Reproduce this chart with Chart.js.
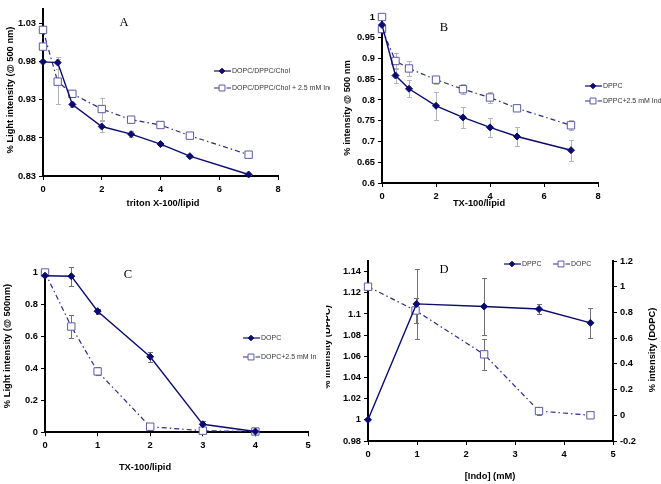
<!DOCTYPE html>
<html>
<head>
<meta charset="utf-8">
<script src="https://cdn.jsdelivr.net/npm/chart.js@4.4.0/dist/chart.umd.min.js"></script>
<style>
  body { margin: 0; background: #fff; }
  #wrap { position: relative; width: 661px; height: 484px; overflow: hidden; background: #fff; }
  canvas { position: absolute; }
</style>
</head>
<body>
<div id="wrap">
  <canvas id="chartA" width="330" height="225" style="left:0;top:0"></canvas>
  <canvas id="chartB" width="331" height="225" style="left:330px;top:0"></canvas>
  <canvas id="chartC" width="316" height="259" style="left:0;top:225px"></canvas>
  <canvas id="chartD" width="335" height="259" style="left:326px;top:225px"></canvas>
</div>
<script>
// panel A
const aX = [0, 0.5, 1, 2, 3, 4, 5, 7];
const aChol = [0.980, 0.979, 0.924, 0.895, 0.885, 0.872, 0.856, 0.832];
const aCholErr = [0, 0.008, 0.003, 0.007, 0.004, 0.002, 0.002, 0.001];
const aIndoX = [0, 0, 0.5, 1, 2, 3, 4, 5, 7];
const aIndo = [1.000, 1.022, 0.954, 0.938, 0.918, 0.904, 0.897, 0.883, 0.858];
const aIndoErr = [0, 0, 0.03, 0.003, 0.014, 0.003, 0.002, 0.002, 0.002];
const aYTicks = [0.83, 0.88, 0.93, 0.98, 1.03];
const aXTicks = [0, 2, 4, 6, 8];

// panel B
const bX = [0, 0.5, 1, 2, 3, 4, 5, 7];
const bDppc = [0.981, 0.859, 0.827, 0.786, 0.758, 0.734, 0.712, 0.679];
const bDppcErr = [0.005, 0.017, 0.02, 0.034, 0.025, 0.023, 0.023, 0.025];
const bIndoX = [0, 0, 0.5, 1, 2, 3, 4, 5, 7];
const bIndo = [1.0, 0.971, 0.894, 0.876, 0.849, 0.826, 0.806, 0.780, 0.739];
const bIndoErr = [0, 0, 0.02, 0.017, 0.01, 0.012, 0.013, 0.005, 0.012];
const bYTicks = [0.6, 0.65, 0.7, 0.75, 0.8, 0.85, 0.9, 0.95, 1];
const bXTicks = [0, 2, 4, 6, 8];

// panel C
const cX = [0, 0.5, 1, 2, 3, 4];
const cDopc = [0.98, 0.977, 0.758, 0.473, 0.05, 0.005];
const cDopcErr = [0, 0.06, 0.015, 0.03, 0.02, 0];
const cIndo = [1.0, 0.662, 0.381, 0.035, 0.01, 0.005];
const cIndoErr = [0, 0.075, 0.025, 0.02, 0.01, 0];
const cYTicks = [0, 0.2, 0.4, 0.6, 0.8, 1];
const cXTicks = [0, 1, 2, 3, 4, 5];

// panel D
const dDppcX = [0, 0.99, 2.37, 3.49, 4.54];
const dDppc = [1.0, 1.1095, 1.107, 1.1046, 1.0916];
const dDppcErr = [0, 0.033, 0.027, 0.005, 0.014];
const dDopcX = [0, 0.97, 2.37, 3.49, 4.54];
const dDopc = [1.0, 0.815, 0.474, 0.033, 0.0];
const dDopcErr = [0, 0.1, 0.118, 0.03, 0];
const dYLeftTicks = [0.98, 1, 1.02, 1.04, 1.06, 1.08, 1.1, 1.12, 1.14];
const dYRightTicks = [-0.2, 0, 0.2, 0.4, 0.6, 0.8, 1, 1.2];
const dXTicks = [0, 1, 2, 3, 4, 5];

const navy = "#0b0b6e";
const squareEdge = "#5a5aa6";
const sans = '"Liberation Sans", Arial, sans-serif';
Chart.defaults.font.family = sans;

function drawMarker(ctx, ds, x, y, scale) {
  const r = ds.pointRadius * scale;
  ctx.beginPath();
  if (ds.pointStyle === "rectRot") {
    ctx.moveTo(x, y - r); ctx.lineTo(x + r, y); ctx.lineTo(x, y + r); ctx.lineTo(x - r, y);
    ctx.closePath();
  } else {
    const h = r * Math.SQRT1_2;
    ctx.rect(x - h, y - h, 2 * h, 2 * h);
  }
  ctx.fillStyle = ds.pointBackgroundColor;
  ctx.fill();
  ctx.lineWidth = ds.pointBorderWidth;
  ctx.strokeStyle = ds.pointBorderColor;
  ctx.stroke();
}

// vertical error bars, drawn under the lines
const errorBars = {
  id: "errorBars",
  beforeDatasetsDraw(chart, args, opts) {
    const ctx = chart.ctx;
    chart.data.datasets.forEach((ds, i) => {
      if (!ds.errors) return;
      const meta = chart.getDatasetMeta(i);
      const xs = chart.scales[meta.xAxisID];
      const ys = chart.scales[meta.yAxisID];
      ctx.save();
      ctx.strokeStyle = opts.color || "#aaa";
      ctx.lineWidth = 1;
      ds.data.forEach((p, j) => {
        const e = ds.errors[j];
        if (!e) return;
        const px = Math.round(xs.getPixelForValue(p.x)) + 0.5;
        const top = Math.round(ys.getPixelForValue(p.y + e)) + 0.5;
        const bot = Math.round(ys.getPixelForValue(p.y - e)) + 0.5;
        ctx.beginPath();
        ctx.moveTo(px, top); ctx.lineTo(px, bot);
        ctx.moveTo(px - 2.5, top); ctx.lineTo(px + 2.5, top);
        ctx.moveTo(px - 2.5, bot); ctx.lineTo(px + 2.5, bot);
        ctx.stroke();
      });
      ctx.restore();
    });
  }
};

// panel letter, axis titles and the small legend
const panelText = {
  id: "panelText",
  afterDraw(chart, args, opts) {
    const ctx = chart.ctx;
    (opts.texts || []).forEach(t => {
      ctx.save();
      ctx.translate(t.x, t.y);
      if (t.rotate) ctx.rotate(t.rotate);
      ctx.font = t.font;
      ctx.fillStyle = "#000";
      ctx.textAlign = "center";
      ctx.textBaseline = "middle";
      ctx.fillText(t.text, 0, 0);
      ctx.restore();
    });
    (opts.legend || []).forEach(item => {
      const ds = chart.data.datasets[item.index];
      ctx.save();
      ctx.strokeStyle = ds.borderColor;
      ctx.lineWidth = 1.2;
      ctx.setLineDash(ds.borderDash || []);
      ctx.beginPath();
      ctx.moveTo(item.x - 8, item.y);
      ctx.lineTo(item.x + 9, item.y);
      ctx.stroke();
      ctx.setLineDash([]);
      drawMarker(ctx, ds, item.x, item.y, 0.8);
      ctx.font = "7px " + sans;
      ctx.fillStyle = "#333";
      ctx.textAlign = "left";
      ctx.textBaseline = "middle";
      ctx.fillText(ds.label, item.x + 10, item.y + 0.5);
      ctx.restore();
    });
  }
};

Chart.register(errorBars, panelText);

function points(xs, ys) {
  return xs.map((x, i) => ({ x: x, y: ys[i] }));
}

function solidSeries(label, xs, ys, errs, axis) {
  return {
    label: label, data: points(xs, ys), errors: errs, yAxisID: axis || "y",
    borderColor: navy, borderWidth: 1.4,
    pointStyle: "rectRot", pointRadius: 3.5, pointHoverRadius: 3.5,
    pointBackgroundColor: navy, pointBorderColor: navy, pointBorderWidth: 1,
    clip: false
  };
}

function dashSeries(label, xs, ys, errs, axis) {
  return {
    label: label, data: points(xs, ys), errors: errs, yAxisID: axis || "y",
    borderColor: "#2a2a86", borderWidth: 1.2, borderDash: [5, 3, 1.5, 3],
    pointStyle: "rect", pointRadius: 5.2, pointHoverRadius: 5.2,
    pointBackgroundColor: "#fff", pointBorderColor: squareEdge, pointBorderWidth: 1,
    clip: false
  };
}

function axis(min, max, tickList, fit, extra) {
  const horizontal = fit.height !== undefined;
  return Object.assign({
    type: "linear", min: min, max: max,
    grid: { drawOnChartArea: false, color: "#000", tickLength: 4, lineWidth: 1 },
    border: { color: "#000", width: 2 },
    ticks: {
      color: "#000", font: { size: 9.3, weight: "bold" }, padding: horizontal ? 4 : 3,
      autoSkip: false, maxRotation: 0, callback: v => String(v)
    },
    afterBuildTicks: s => { s.ticks = tickList.map(v => ({ value: v })); },
    afterFit: s => {
      if (horizontal) s.height = fit.height; else s.width = fit.width;
    }
  }, extra || {});
}

const letterFont = '12.5px "Liberation Serif", "Times New Roman", serif';
const titleFont = "bold 9.3px " + sans;
const up = -Math.PI / 2;

function baseOptions(padTop, padRight, scales, textOpts, errColor) {
  return {
    responsive: false,
    animation: false,
    layout: { padding: { top: padTop, right: padRight, bottom: 0, left: 0 } },
    scales: scales,
    plugins: {
      legend: { display: false },
      tooltip: { enabled: false },
      errorBars: { color: errColor },
      panelText: textOpts
    }
  };
}

new Chart(document.getElementById("chartA"), {
  type: "line",
  data: { datasets: [
    solidSeries("DOPC/DPPC/Chol", aX, aChol, aCholErr),
    dashSeries("DOPC/DPPC/Chol + 2.5 mM Indo", aIndoX, aIndo, aIndoErr)
  ] },
  options: baseOptions(3, 52, {
    x: axis(0, 8, aXTicks, { height: 49 }),
    y: axis(0.83, 1.05, aYTicks, { width: 43 })
  }, {
    texts: [
      { text: "A", x: 124, y: 23, font: letterFont },
      { text: "% Light intensity (@ 500 nm)", x: 10, y: 90, rotate: up, font: titleFont },
      { text: "triton X-100/lipid", x: 163, y: 203, font: titleFont }
    ],
    legend: [ { index: 0, x: 222, y: 71 }, { index: 1, x: 222, y: 88 } ]
  }, "#b4b4b4")
});

new Chart(document.getElementById("chartB"), {
  type: "line",
  data: { datasets: [
    solidSeries("DPPC", bX, bDppc, bDppcErr),
    dashSeries("DPPC+2.5 mM Indo", bIndoX, bIndo, bIndoErr)
  ] },
  options: baseOptions(17, 63, {
    x: axis(0, 8, bXTicks, { height: 42 }),
    y: axis(0.6, 1, bYTicks, { width: 52 })
  }, {
    texts: [
      { text: "B", x: 114, y: 28, font: letterFont },
      { text: "% intensity @ 500 nm", x: 17, y: 108, rotate: up, font: titleFont },
      { text: "TX-100/lipid", x: 149, y: 203, font: titleFont }
    ],
    legend: [ { index: 0, x: 263, y: 86 }, { index: 1, x: 263, y: 101 } ]
  }, "#b4b4b4")
});

new Chart(document.getElementById("chartC"), {
  type: "line",
  data: { datasets: [
    solidSeries("DOPC", cX, cDopc, cDopcErr),
    dashSeries("DOPC+2.5 mM Indo", cX, cIndo, cIndoErr)
  ] },
  options: baseOptions(47.5, 8, {
    x: axis(0, 5, cXTicks, { height: 51.7 }),
    y: axis(0, 1, cYTicks, { width: 45 })
  }, {
    texts: [
      { text: "C", x: 128, y: 50, font: letterFont },
      { text: "% Light intensity (@ 500nm)", x: 7, y: 121, rotate: up, font: titleFont },
      { text: "TX-100/lipid", x: 145, y: 242, font: titleFont }
    ],
    legend: [ { index: 0, x: 251, y: 113 }, { index: 1, x: 251, y: 132 } ]
  }, "#707070")
});

new Chart(document.getElementById("chartD"), {
  type: "line",
  data: { datasets: [
    solidSeries("DPPC", dDppcX, dDppc, dDppcErr, "y"),
    dashSeries("DOPC", dDopcX, dDopc, dDopcErr, "y2")
  ] },
  options: baseOptions(36, 0, {
    x: axis(0, 5, dXTicks, { height: 43 }),
    y: axis(0.98, 1.15, dYLeftTicks, { width: 42 }, { position: "left" }),
    y2: axis(-0.2, 1.2, dYRightTicks, { width: 48 }, { position: "right" })
  }, {
    texts: [
      { text: "D", x: 118, y: 45, font: letterFont },
      { text: "% intensity (DPPC)", x: 1.5, y: 122, rotate: up, font: titleFont },
      { text: "% intensity (DOPC)", x: 326, y: 125, rotate: up, font: titleFont },
      { text: "[Indo] (mM)", x: 164, y: 251, font: titleFont }
    ],
    legend: [ { index: 0, x: 186, y: 39 }, { index: 1, x: 235, y: 39 } ]
  }, "#707070")
});
</script>
</body>
</html>
